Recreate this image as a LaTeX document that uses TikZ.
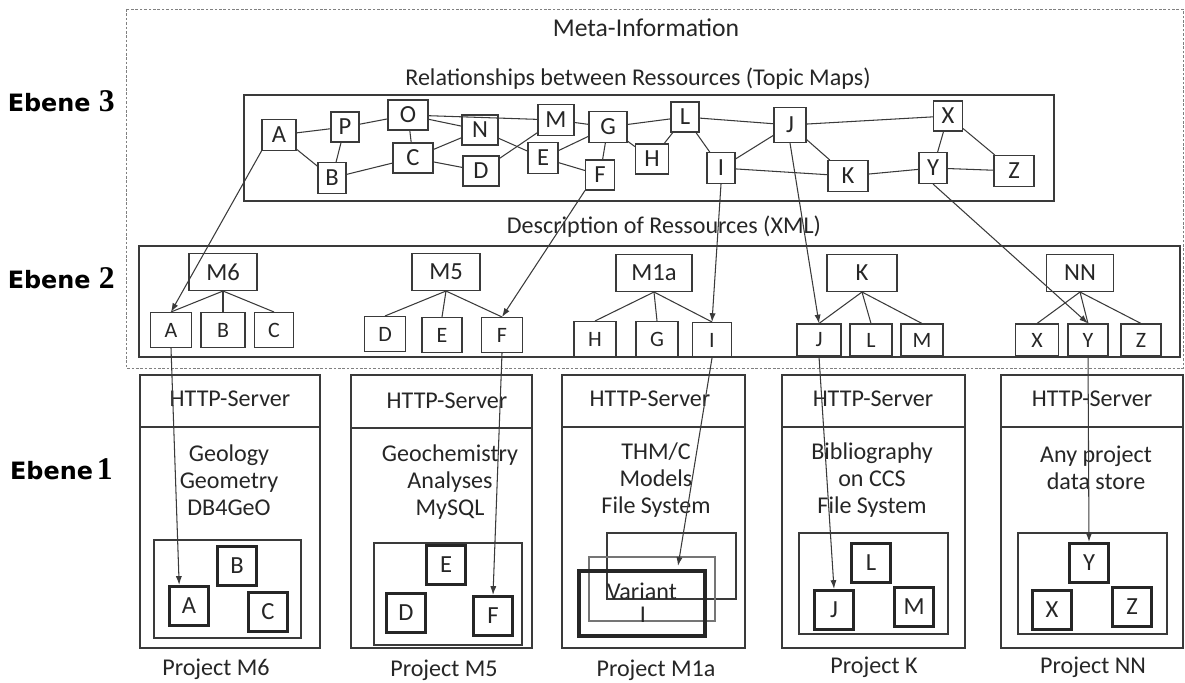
\documentclass[tikz,border=0pt]{standalone}
\usepackage{fontspec}
\setmainfont{Carlito}
\newfontfamily\ebenefont{DejaVu Sans}
\newfontfamily\ziffernfont{Liberation Serif}
\usetikzlibrary{calc,arrows.meta}
\definecolor{strich}{HTML}{3A3A3A}
\definecolor{schrift}{HTML}{262626}
\tikzset{
	topic/.style={draw=strich, line width=0.6pt, inner sep=0pt, minimum width=0.6cm, minimum height=0.6cm, font=\fontsize{14}{14}\selectfont},
	res/.style={draw=strich, line width=0.6pt, inner sep=0pt, minimum width=0.82cm, minimum height=0.7cm, font=\fontsize{12.5}{12.5}\selectfont},
	modell/.style={draw=strich, line width=0.6pt, inner sep=0pt, minimum width=1.36cm, minimum height=0.74cm, font=\fontsize{14}{14}\selectfont},
	datei/.style={draw=black!85, line width=1.8pt, inner sep=0pt, minimum size=0.78cm, font=\fontsize{14}{14}\selectfont},
	linie/.style={strich, line width=0.6pt},
	pfeil/.style={strich, line width=0.6pt, -{Latex[length=5pt,width=3.5pt]}},
	txt/.style={font=\fontsize{13.7}{15.3}\selectfont, align=center},
	ebene/.style={anchor=east, font=\ebenefont\bfseries\fontsize{13.6}{14}\selectfont, text=black},
}
\newcommand{\ziffer}[1]{{\ziffernfont\bfseries\fontsize{18}{18}\selectfont #1}}

\begin{document}
\begin{tikzpicture}[x=0.02cm, y=-0.02cm, every node/.append style={text=schrift}]
	%%%%% START %%%%%
	\useasboundingbox (0,0) rectangle (1185,682);
	
	% Ebenen
	\node[ebene] (e3) at (121,101) {Ebene \ziffer{3}};
	\node[ebene] (e2) at (121,278) {Ebene \ziffer{2}};
	\node[ebene] (e1) at (119,469) {Ebene\,\ziffer{1}};
	
	% Meta-Information
	\draw[gray, line width=0.5pt, dash pattern=on 1.5pt off 1pt] (126,9) rectangle (1183,368);
	\node[txt, font=\fontsize{14.6}{15}\selectfont] (meta) at (646,28) {Meta-Information};
	\node[txt] (rel) at (638,79) {Relationships between Ressources (Topic Maps)};
	\draw[linie] (244,95) rectangle (1054,201);
	
	\node[topic, minimum width=0.68cm, minimum height=0.62cm] (tA) at (279,135) {A};
	\node[topic, minimum width=0.56cm] (tP) at (345,127) {P};
	\node[topic, minimum width=0.8cm] (tO) at (408,115) {O};
	\node[topic, minimum width=0.56cm, minimum height=0.62cm] (tB) at (332,178) {B};
	\node[topic, minimum width=0.8cm] (tC) at (413,158) {C};
	\node[topic, minimum width=0.72cm] (tN) at (480,130) {N};
	\node[topic, minimum width=0.72cm] (tD) at (481,171) {D};
	\node[topic, minimum width=0.72cm, minimum height=0.62cm] (tM) at (556,120) {M};
	\node[topic, minimum height=0.62cm] (tE) at (543,158) {E};
	\node[topic, minimum width=0.76cm, minimum height=0.62cm] (tG) at (608,127) {G};
	\node[topic, minimum width=0.58cm] (tF) at (600,175) {F};
	\node[topic, minimum width=0.66cm] (tH) at (652,159) {H};
	\node[topic, minimum width=0.56cm] (tL) at (685,117) {L};
	\node[topic, minimum width=0.56cm, minimum height=0.62cm] (tI) at (721,168) {I};
	\node[topic, minimum width=0.64cm, minimum height=0.7cm] (tJ) at (790,125) {J};
	\node[topic, minimum width=0.8cm, minimum height=0.62cm] (tK) at (848,176) {K};
	\node[topic, minimum width=0.58cm] (tX) at (948,116) {X};
	\node[topic, minimum width=0.56cm, minimum height=0.62cm] (tY) at (933,168) {Y};
	\node[topic, minimum width=0.8cm, minimum height=0.62cm] (tZ) at (1014,171) {Z};
	
	\draw[linie] (tA) -- (tP);
	\draw[linie] (tA) -- (tB);
	\draw[linie] (tP) -- (tO);
	\draw[linie] (tP) -- (tB);
	\draw[linie] (tO) -- (tC);
	\draw[linie] (tO) -- (tN);
	\draw[linie] (tO) -- (tM);
	\draw[linie] (tB) -- (tC);
	\draw[linie] (tC) -- (tN);
	\draw[linie] (tC) -- (tD);
	\draw[linie] (tN) -- (tE);
	\draw[linie] (tD) -- (tM);
	\draw[linie] (tM) -- (tG);
	\draw[linie] (tE) -- (tG);
	\draw[linie] (tE) -- (tF);
	\draw[linie] (tG) -- (tF);
	\draw[linie] (tG) -- (tH);
	\draw[linie] (tG) -- (tL);
	\draw[linie] (tL) -- (tH);
	\draw[linie] (tL) -- (tI);
	\draw[linie] (tL) -- (tJ);
	\draw[linie] (tJ) -- (tI);
	\draw[linie] (tJ) -- (tK);
	\draw[linie] (tI) -- (tK);
	\draw[linie] (tJ) -- (tX);
	\draw[linie] (tK) -- (tY);
	\draw[linie] (tX) -- (tY);
	\draw[linie] (tX) -- (tZ);
	\draw[linie] (tY) -- (tZ);
	
	% Description of Ressources
	\node[txt] (desc) at (664,227) {Description of Ressources (XML)};
	\draw[linie] (139,246) rectangle (1180,357);
	
	\node[modell] (m6) at (223,272) {M6};
	\node[res] (sA) at (171,330) {A};
	\node[res, minimum width=0.88cm] (sB) at (223,330) {B};
	\node[res, minimum width=0.78cm] (sC) at (274,330) {C};
	
	\node[modell] (m5) at (446,272) {M5};
	\node[res] (sD) at (385,334) {D};
	\node[res, minimum width=0.8cm] (sE) at (442,335) {E};
	\node[res] (sF) at (502,335) {F};
	
	\node[modell, minimum width=1.52cm] (m1a) at (654,273) {M1a};
	\node[res, minimum width=0.84cm] (sH) at (595,339) {H};
	\node[res, minimum width=0.84cm] (sG) at (657,339) {G};
	\node[res, minimum width=0.78cm] (sI) at (712,340) {I};
	
	\node[modell, minimum width=1.4cm] (mK) at (862,273) {K};
	\node[res, minimum width=0.88cm, minimum height=0.64cm] (sJ) at (819,340) {J};
	\node[res, minimum width=0.84cm, minimum height=0.64cm] (sL) at (871,340) {L};
	\node[res, minimum width=0.84cm, minimum height=0.64cm] (sM) at (922,340) {M};
	
	\node[modell, minimum width=1.34cm] (mNN) at (1080,273) {NN};
	\node[res, minimum width=0.86cm, minimum height=0.64cm] (sX) at (1037,340) {X};
	\node[res, minimum width=0.8cm, minimum height=0.64cm] (sY) at (1088,340) {Y};
	\node[res, minimum width=0.8cm, minimum height=0.64cm] (sZ) at (1141,340) {Z};
	
	\draw[linie] (m6.south) -- (sA.north);
	\draw[linie] (m6.south) -- (sB.north);
	\draw[linie] (m6.south) -- (sC.north);
	\draw[linie] (m5.south) -- (sD.north);
	\draw[linie] (m5.south) -- (sE.north);
	\draw[linie] (m5.south) -- (sF.north);
	\draw[linie] (m1a.south) -- (sH.north);
	\draw[linie] (m1a.south) -- (sG.north);
	\draw[linie] (m1a.south) -- (sI.north);
	\draw[linie] (mK.south) -- (sJ.north);
	\draw[linie] (mK.south) -- (sL.north);
	\draw[linie] (mK.south) -- (sM.north);
	\draw[linie] (mNN.south) -- (sX.north);
	\draw[linie] (mNN.south) -- (sY.north);
	\draw[linie] (mNN.south) -- (sZ.north);
	
	% Projekte
	\draw[linie] (140,375) rectangle (320,648);
	\draw[linie] (140,427) -- (320,427);
	\node[txt] (srv1) at (230,399) {HTTP-Server};
	\node[txt] (inh1) at (229,480) {Geology\\Geometry\\DB4GeO};
	\draw[linie] (154,540) rectangle (301,638);
	\node[datei] (pB) at (237,566) {B};
	\node[datei] (pA) at (189,606) {A};
	\node[datei] (pC) at (268,612) {C};
	\node[txt] (proj1) at (216,669) {Project M6};
	
	\draw[linie] (351,375) rectangle (532,648);
	\draw[linie] (351,428) -- (532,428);
	\node[txt] (srv2) at (447,401) {HTTP-Server};
	\node[txt] (inh2) at (450,482) {Geochemistry\\Analyses\\MySQL};
	\draw[linie] (374,543) rectangle (522,645);
	\node[datei] (pE) at (446,565) {E};
	\node[datei] (pD) at (406,613) {D};
	\node[datei] (pF) at (493,616) {F};
	\node[txt] (proj2) at (444,670) {Project M5};
	
	\draw[linie] (562,375) rectangle (745,648);
	\draw[linie] (562,427) -- (745,427);
	\node[txt] (srv3) at (650,399) {HTTP-Server};
	\node[txt] (inh3) at (656,480) {THM/C\\Models\\File System};
	\draw[linie] (607,533) rectangle (736,599);
	\draw[strich!70, line width=0.6pt] (589,557) rectangle (715,621);
	\draw[black!85, line width=1.8pt] (579,571) rectangle (705,636);
	\node[txt] (var) at (642,591) {Variant};
	\node[txt] (varI) at (643,615) {I};
	\coordinate (iende) at (678,566);
	\node[txt] (proj3) at (656,670) {Project M1a};
	
	\draw[linie] (782,375) rectangle (965,648);
	\draw[linie] (782,427) -- (965,427);
	\node[txt] (srv4) at (873,399) {HTTP-Server};
	\node[txt] (inh4) at (872,480) {Bibliography\\on CCS\\File System};
	\draw[linie] (799,533) rectangle (948,634);
	\node[datei] (pL) at (871,563) {L};
	\node[datei] (pJ) at (834,610) {J};
	\node[datei] (pM) at (914,607) {M};
	\node[txt] (proj4) at (874,667) {Project K};
	
	\draw[linie] (1001,375) rectangle (1183,648);
	\draw[linie] (1001,427) -- (1183,427);
	\node[txt] (srv5) at (1092,399) {HTTP-Server};
	\node[txt] (inh5) at (1096,468) {Any project\\data store};
	\draw[linie] (1018,533) rectangle (1167,634);
	\node[datei] (pY) at (1089,563) {Y};
	\node[datei] (pX) at (1052,610) {X};
	\node[datei] (pZ) at (1132,607) {Z};
	\node[txt] (proj5) at (1093,667) {Project NN};
	
	% Verweise
	\draw[pfeil] (tA.south west) -- (sA.north);
	\draw[pfeil] (tF.south west) -- (sF.north);
	\draw[pfeil] (tI.south) -- (sI.north);
	\draw[pfeil] (tJ.south) -- (sJ.north);
	\draw[pfeil] (tY.south) -- (sY.north);
	
	\draw[pfeil] (sA.south) -- (pA.115);
	\draw[pfeil] (sF.south) -- (pF.north);
	\draw[pfeil] (sI.south) -- (iende);
	\draw[pfeil] (sJ.south) -- (pJ.north);
	\draw[pfeil] (sY.south) -- (pY.north);
	
	%%%%% END %%%%%
\end{tikzpicture}
\end{document}
